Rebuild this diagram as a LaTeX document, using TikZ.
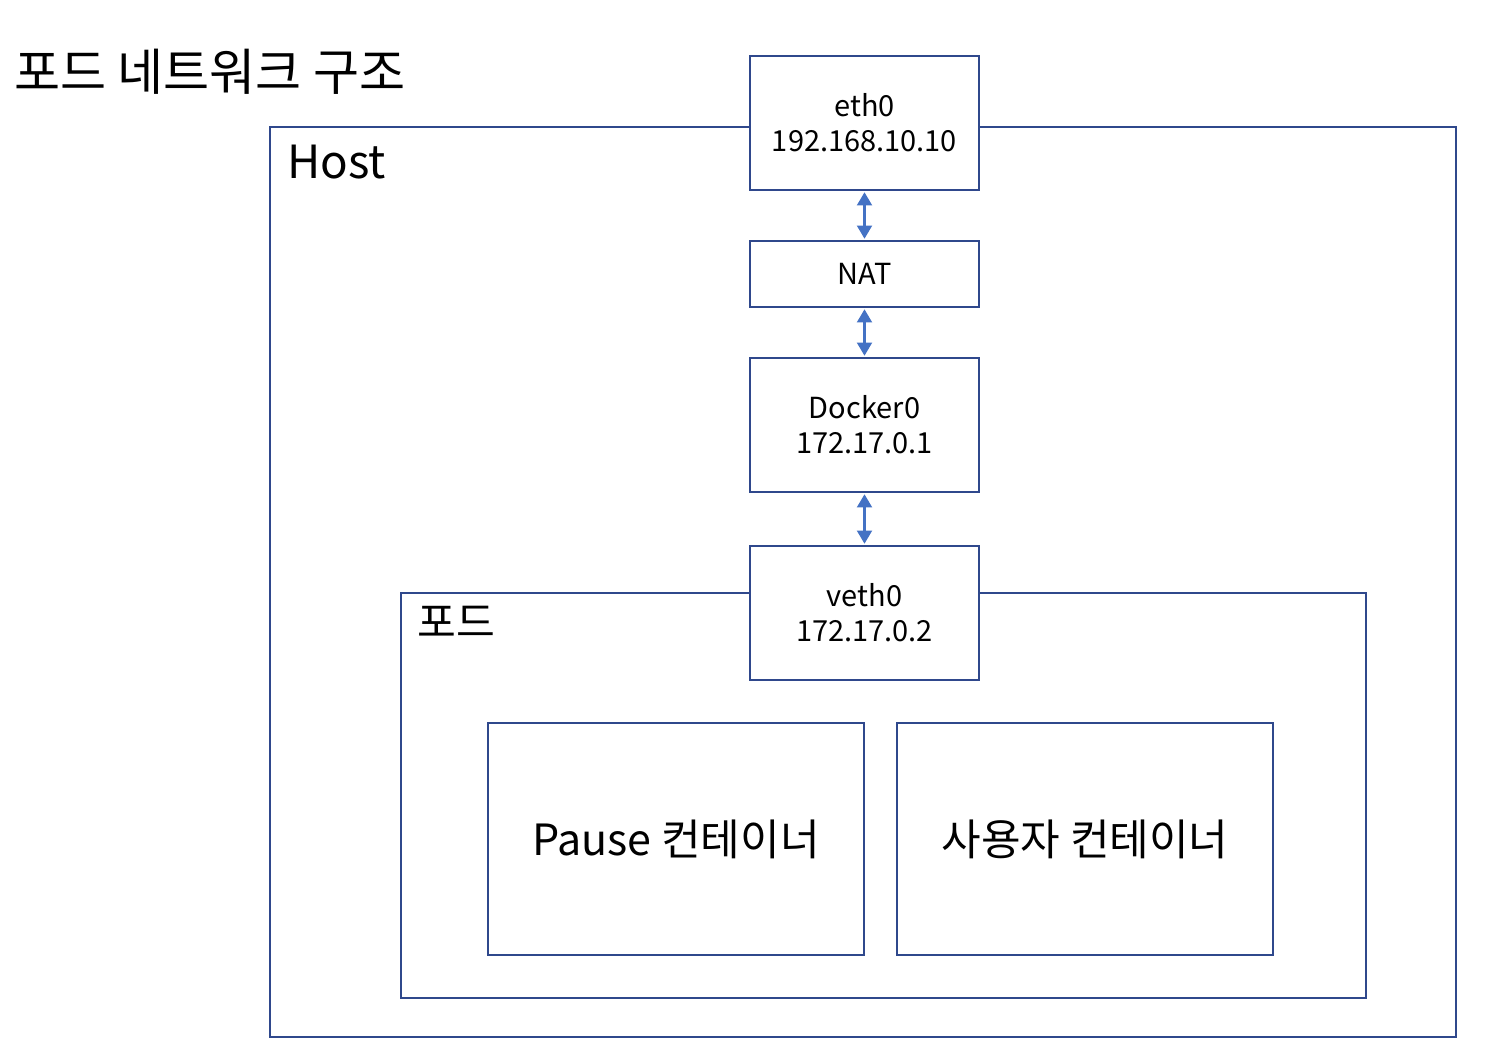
\documentclass[tikz,border=0pt]{standalone}
\usepackage{fontspec}
\setmainfont{Noto Sans CJK KR}
\usepackage{tikz}
\usetikzlibrary{arrows.meta, positioning}

\definecolor{boxblue}{RGB}{47,72,140}
\definecolor{arrowblue}{RGB}{68,114,196}

\tikzset{
    netbox/.style={draw=boxblue, line width=1.6pt, fill=white, minimum width=4.58cm, minimum height=2.68cm, align=center, font=\fontsize{16.5}{19.8}\selectfont},
    ctrbox/.style={draw=boxblue, line width=1.6pt, fill=white, minimum width=7.52cm, minimum height=4.64cm, font=\fontsize{24.5}{28}\selectfont},
    link/.style={{Triangle[width=8.5pt,length=7.5pt]}-{Triangle[width=8.5pt,length=7.5pt]}, arrowblue, line width=1.3pt, shorten <=0.5pt, shorten >=0.5pt}
}

\begin{document}
\begin{tikzpicture}[x=0.02cm, y=-0.02cm]
                    \useasboundingbox (0,0) rectangle (1508,1054);

                    % title
                    \node[anchor=west, font=\fontsize{28.5}{32}\selectfont] (title) at (8,72) {포드 네트워크 구조};

                    % host and pod areas
                    \draw[boxblue, line width=1.6pt] (270,127) rectangle (1456,1037);
                    \node[anchor=west, font=\fontsize{26}{30}\selectfont] (host) at (281,162) {Host};
                    \draw[boxblue, line width=1.6pt] (401,593) rectangle (1366,998);
                    \node[anchor=west, font=\fontsize{24}{28}\selectfont] (pod) at (411,622) {포드};

                    % network stack
                    \node[netbox] (eth0) at (864.5,123) {eth0\\192.168.10.10};
                    \node[netbox, minimum height=1.32cm] (nat) at (864.5,274) {NAT};
                    \node[netbox] (docker0) at (864.5,425) {Docker0\\172.17.0.1};
                    \node[netbox] (veth0) at (864.5,613) {veth0\\172.17.0.2};

                    \draw[link] (eth0) -- (nat);
                    \draw[link] (nat) -- (docker0);
                    \draw[link] (docker0) -- (veth0);

                    % containers
                    \node[ctrbox] (pause) at (676,839) {Pause 컨테이너};
                    \node[ctrbox] (user) at (1085,839) {사용자 컨테이너};
                \end{tikzpicture}
\end{document}
